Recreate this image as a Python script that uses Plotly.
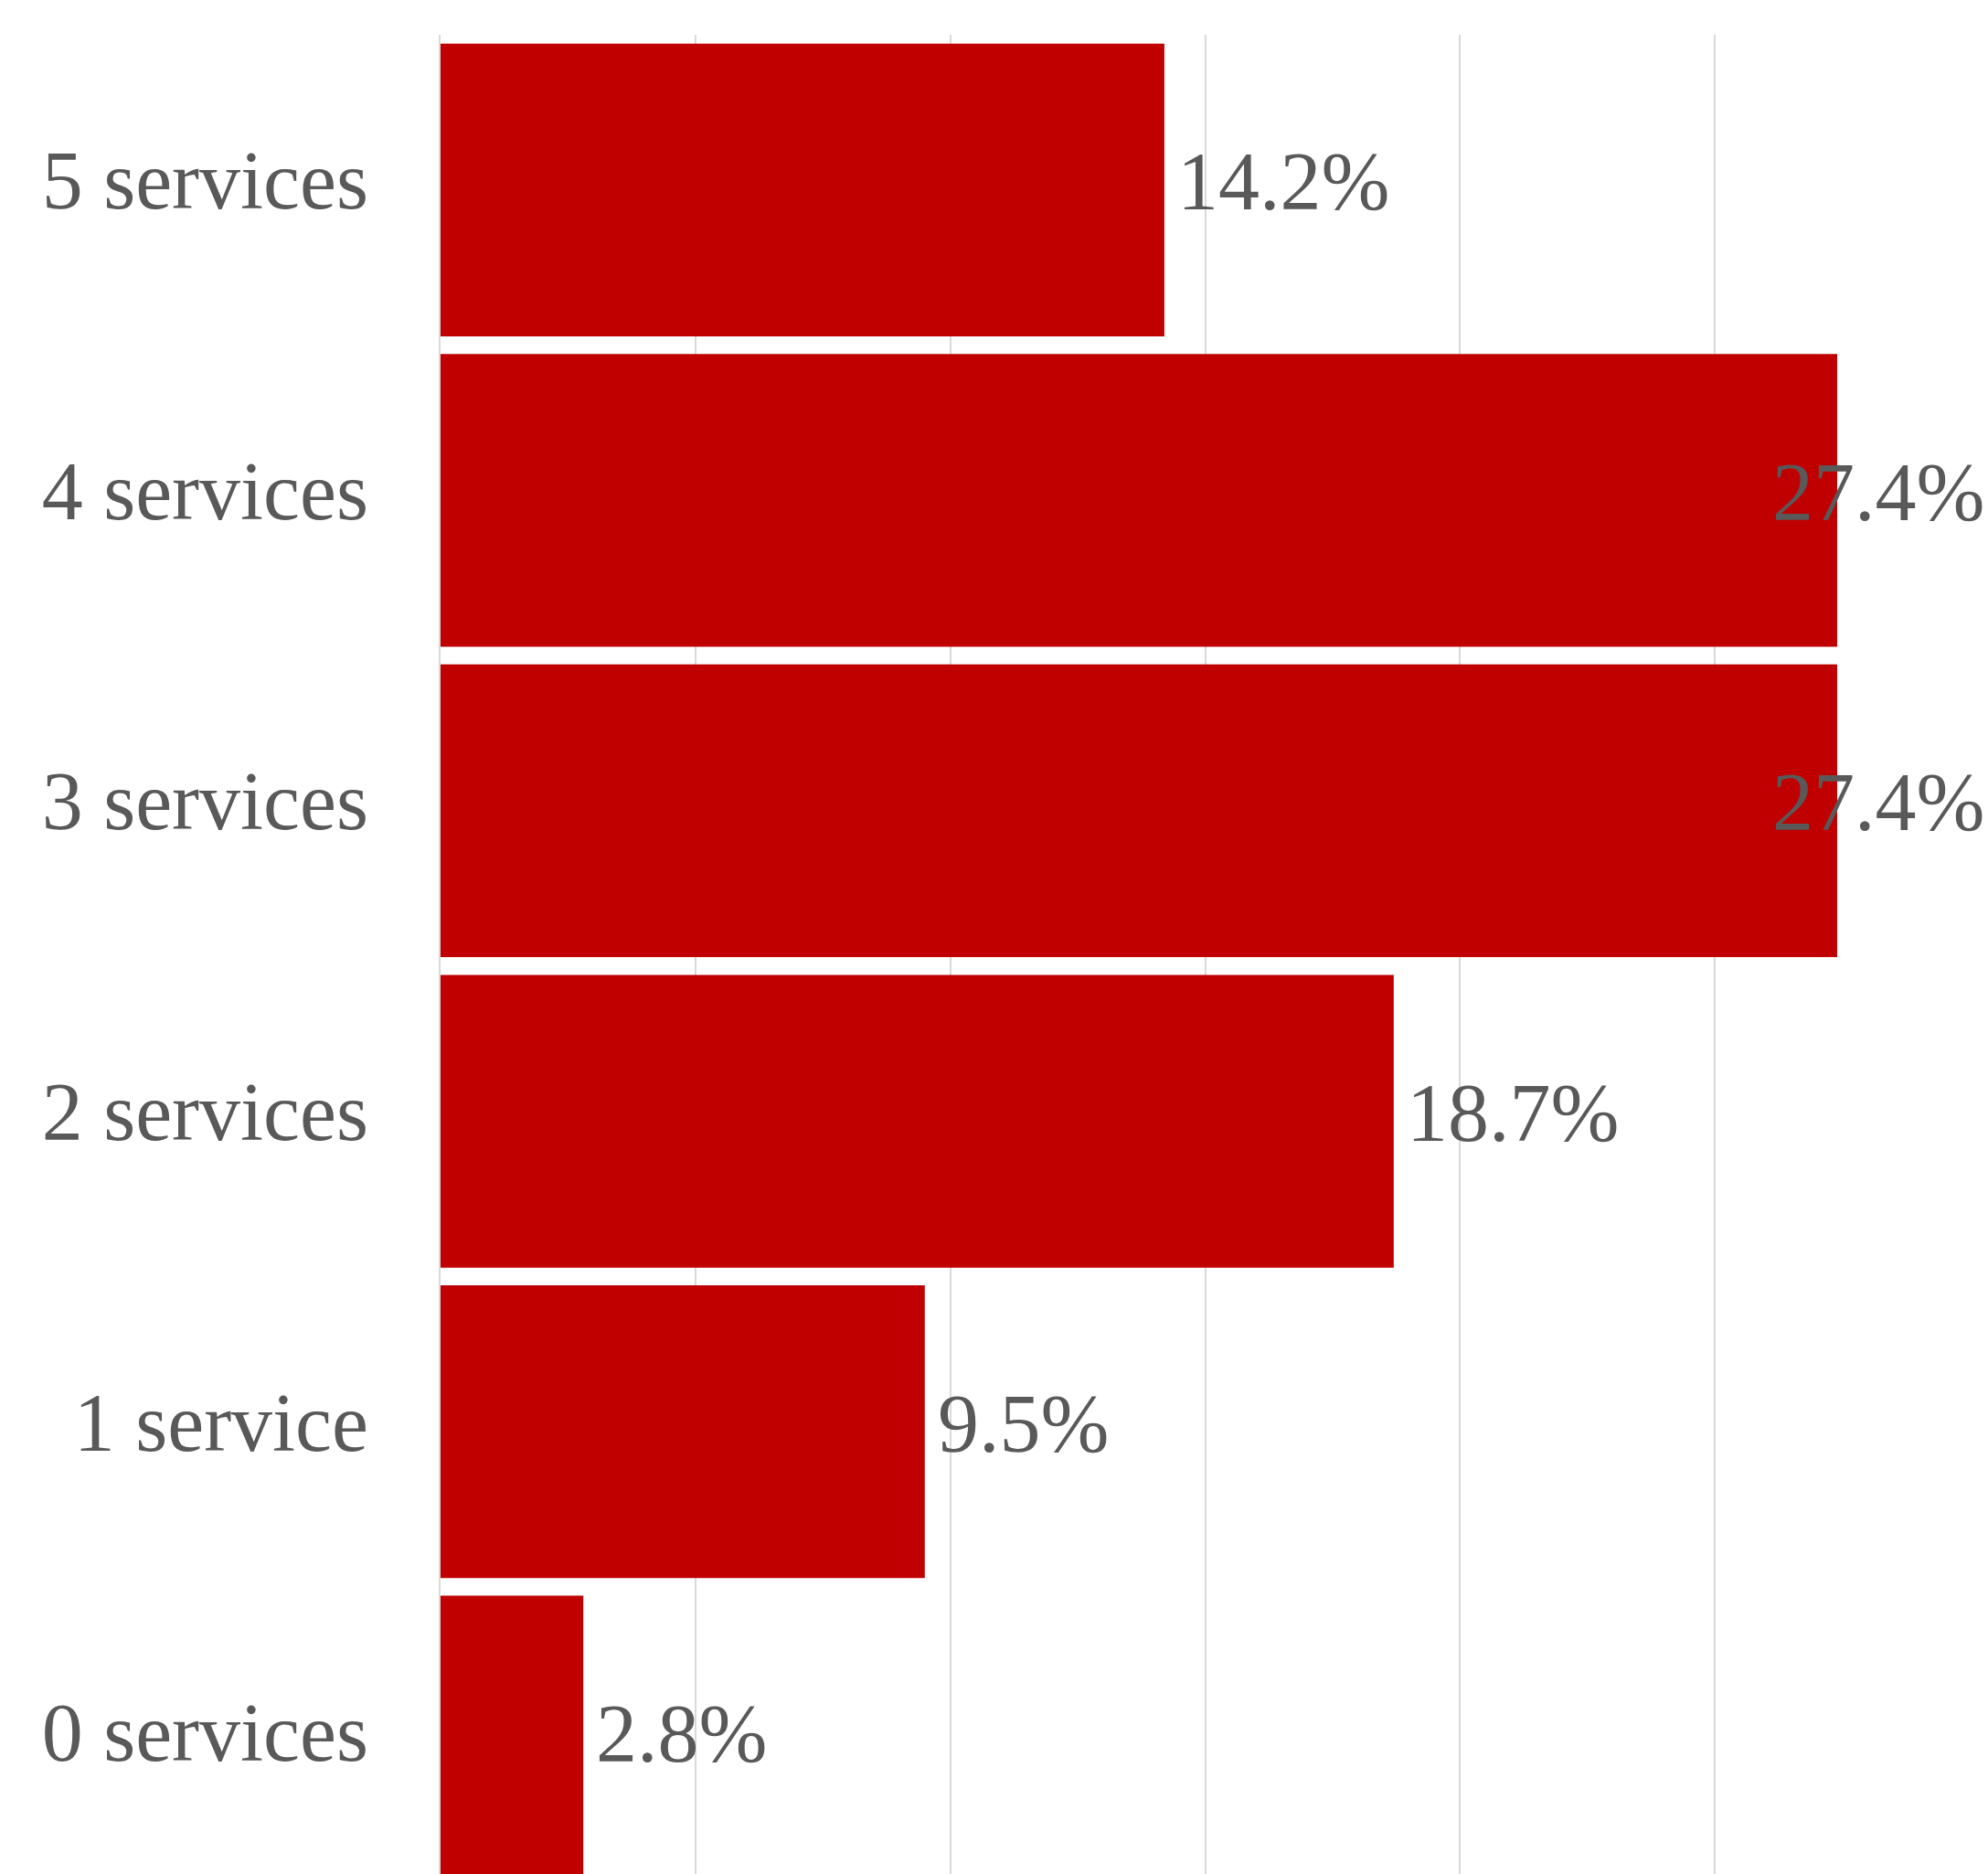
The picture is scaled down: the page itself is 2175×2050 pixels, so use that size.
import plotly.graph_objects as go

categories = ["0 services", "1 service", "2 services", "3 services", "4 services", "5 services"]
values = [2.8, 9.5, 18.7, 27.4, 27.4, 14.2]
value_labels = [f"{v:.1f}%" for v in values]

FONT = "Liberation Serif"
TXT = "#595959"
RED = "#C00000"
XMAX = 30

fig = go.Figure(go.Bar(
    y=categories, x=values, orientation="h",
    marker=dict(color=RED, line=dict(width=0)),
    hoverinfo="skip",
))

annotations = []
for c, v, t in zip(categories, values, value_labels):
    if v > 25:
        annotations.append(dict(x=1, xref="paper", y=c, yref="y", text=t, showarrow=False,
                                xanchor="right", yanchor="middle", xshift=18, yshift=9,
                                font=dict(family=FONT, size=90, color=TXT)))
    else:
        annotations.append(dict(x=v, xref="x", y=c, yref="y", text=t, showarrow=False,
                                xanchor="left", yanchor="middle", xshift=12, yshift=9,
                                font=dict(family=FONT, size=90, color=TXT)))

fig.update_layout(
    width=2175, height=2050,
    margin=dict(l=482, r=20, t=38, b=0, pad=0),
    paper_bgcolor="white", plot_bgcolor="white",
    bargap=0.057,
    showlegend=False,
    annotations=annotations,
    xaxis=dict(range=[0, XMAX], dtick=5, showgrid=True, gridcolor="#d9d9d9", gridwidth=2,
               showticklabels=False, zeroline=False, showline=False, ticks=""),
    yaxis=dict(range=[-0.425, 5.5], showgrid=False, zeroline=False,
               showline=True, linecolor="#d9d9d9", linewidth=2,
               ticks="", ticklabelstandoff=59, ticklabelshift=-11,
               tickfont=dict(family=FONT, size=90, color=TXT)),
)

fig.write_html("out.html")
